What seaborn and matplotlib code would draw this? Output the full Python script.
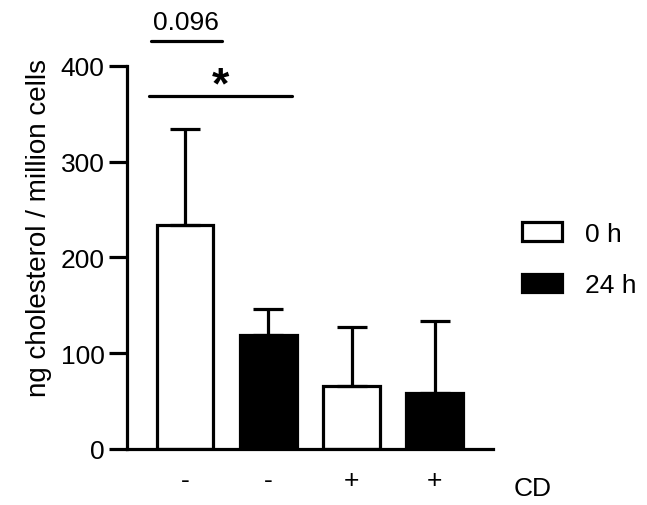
import pandas as pd
import matplotlib
matplotlib.use("Agg")
import matplotlib.pyplot as plt
import matplotlib.patches as mpatches
import seaborn as sns

# values
conditions = ["CD- 0 h", "CD- 24 h", "CD+ 0 h", "CD+ 24 h"]
times = ["0 h", "24 h", "0 h", "24 h"]
tick_labels = ["-", "-", "+", "+"]
means = [234, 119, 66, 58]
sd_upper = [100, 27, 61, 75]

df = pd.DataFrame({"condition": conditions, "time": times, "value": means})

sns.set_style("ticks")
plt.rcParams["font.family"] = ["Liberation Sans", "DejaVu Sans"]
for key in ["text.color", "axes.labelcolor", "xtick.color", "ytick.color", "axes.edgecolor"]:
    plt.rcParams[key] = "black"

fig = plt.figure(figsize=(6.47, 5.06), dpi=100)
ax = fig.add_axes([0.196, 0.111, 0.566, 0.757])

lw = 2.3
fs = 19
sns.barplot(data=df, x="condition", y="value", hue="time", dodge=False,
            palette={"0 h": "white", "24 h": "black"}, width=0.68,
            edgecolor="black", linewidth=lw, legend=False, ax=ax)

ax.errorbar(range(len(means)), means, yerr=[[0] * len(means), sd_upper],
            fmt="none", ecolor="black", elinewidth=lw, capsize=10.5,
            capthick=lw, zorder=5)

ax.set_xlim(-0.70, 3.70)
ax.set_ylim(0, 400)
ax.set_yticks([0, 100, 200, 300, 400])
ax.set_xticks(range(len(tick_labels)))
ax.set_xticklabels(tick_labels)
ax.set_xlabel("")
ax.set_ylabel("ng cholesterol / million cells", fontsize=20)
ax.yaxis.set_label_coords(-0.205, 0.58)
ax.tick_params(axis="y", length=13, width=lw, labelsize=fs, pad=3)
ax.tick_params(axis="x", length=0, labelsize=fs, pad=14)
for side in ["left", "bottom"]:
    ax.spines[side].set_linewidth(lw)
sns.despine(ax=ax)
ax.text(3.95, -28, "CD", fontsize=fs, ha="left", va="top")

# significance annotations
ax.plot([-0.41, 0.44], [426, 426], color="black", lw=lw, clip_on=False)
ax.text(0.01, 433, "0.096", fontsize=fs, ha="center", va="bottom")
ax.plot([-0.43, 1.28], [368, 368], color="black", lw=lw, clip_on=False)
ax.text(0.43, 358, "*", fontsize=32, fontweight="bold", ha="center", va="bottom")

handles = [mpatches.Patch(facecolor="white", edgecolor="black", linewidth=lw, label="0 h"),
           mpatches.Patch(facecolor="black", edgecolor="black", linewidth=lw, label="24 h")]
fig.legend(handles=handles, loc="center left", bbox_to_anchor=(0.77, 0.485),
           frameon=False, fontsize=fs, handlelength=1.5, handleheight=0.7,
           handletextpad=0.9, labelspacing=1.05)

fig.savefig("out.png", dpi=100)
